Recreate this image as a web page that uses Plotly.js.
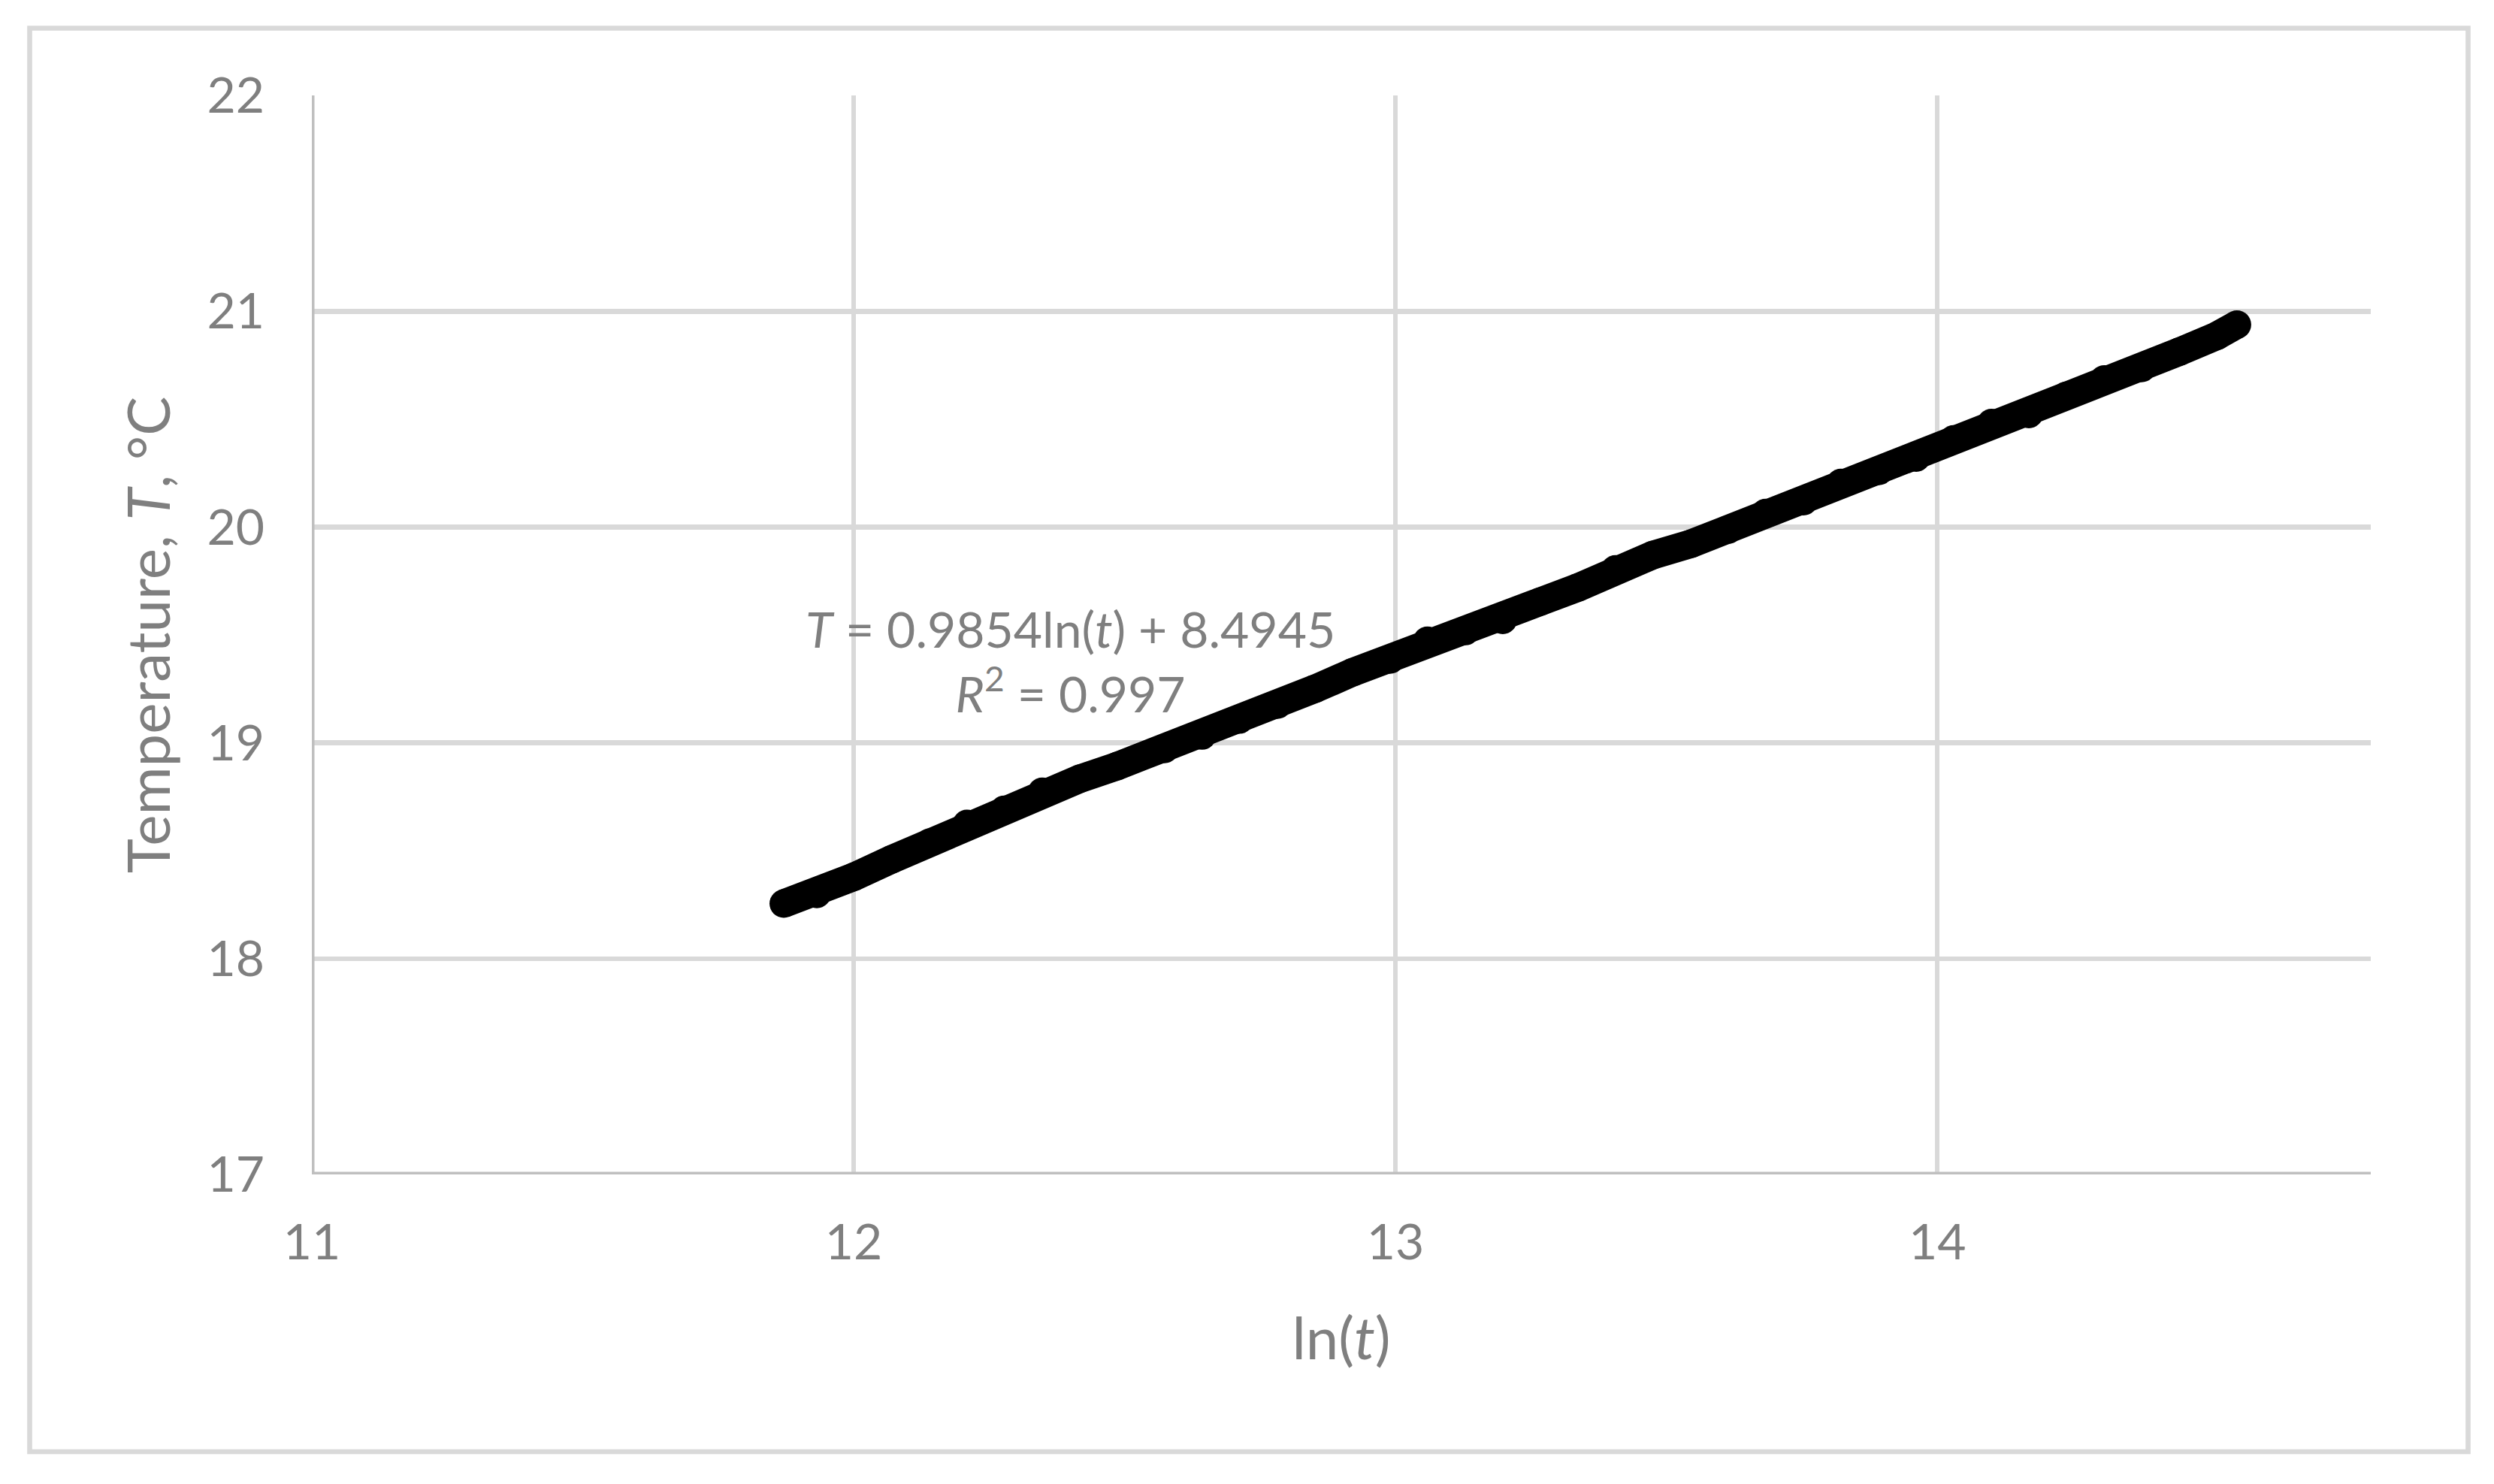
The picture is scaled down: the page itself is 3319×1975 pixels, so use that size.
<!DOCTYPE html>
<html>
<head>
<meta charset="utf-8">
<script src="https://cdn.plot.ly/plotly-3.0.1.min.js"></script>
<style>
  html, body { margin: 0; padding: 0; background: #ffffff; }
  #chart { width: 3319px; height: 1975px; }
</style>
</head>
<body>
<div id="chart"></div>
<script>
// ---- Data ----
const lnT = [11.871, 11.932, 12.001, 12.070, 12.140, 12.209, 12.278, 12.348, 12.417, 12.486,
             12.574, 12.643, 12.712, 12.782, 12.851, 12.921, 12.990, 13.059, 13.129, 13.198,
             13.267, 13.337, 13.406, 13.475, 13.545, 13.614, 13.683, 13.753, 13.822, 13.892,
             13.961, 14.030, 14.100, 14.169, 14.238, 14.308, 14.377, 14.447, 14.516, 14.553];
const tempC = [18.255, 18.300, 18.380, 18.460, 18.537, 18.624, 18.690, 18.773, 18.833, 18.892,
               18.972, 19.034, 19.108, 19.177, 19.250, 19.327, 19.386, 19.473, 19.518, 19.570,
               19.654, 19.720, 19.804, 19.870, 19.922, 19.988, 20.065, 20.120, 20.204, 20.260,
               20.322, 20.406, 20.482, 20.524, 20.608, 20.684, 20.737, 20.813, 20.886, 20.938];
const xTicks = [11, 12, 13, 14];
const yTicks = [17, 18, 19, 20, 21, 22];
const xRange = [11, 14.8];
const yRange = [17, 22];
const xTitle = 'ln(<i>t</i>)';
const yTitle = 'Temperature, <i>T</i>, °C';
const fitText = '<i>T</i> = 0.9854ln(<i>t</i>) + 8.4945<br><i>R</i><sup>2</sup> = 0.997';

// ---- Layout geometry (pixels) ----
const W = 3319, H = 1975;
const plotL = 415, plotR = 3155, plotT = 127, plotB = 1563;
const pw = plotR - plotL, ph = plotB - plotT;
const px2x = p => (p - plotL) / pw;
const py2y = p => (plotB - p) / ph;

const FONT = 'Lato, "Open Sans", sans-serif';
const GRAY = '#7f7f7f';
const AXIS_COLOR = '#bfbfbf';

const trace = {
  type: 'scatter',
  mode: 'lines+markers',
  x: lnT,
  y: tempC,
  line: { color: '#000000', width: 38 },
  marker: { color: '#000000', size: 38, line: { width: 0 } },
  hoverinfo: 'x+y',
  showlegend: false
};

const axisCommon = {
  showgrid: true,
  gridcolor: '#d9d9d9',
  gridwidth: 6.6,
  showline: false,
  zeroline: false,
  ticks: '',
  tickmode: 'array',
  tickfont: { family: FONT, size: 66, color: GRAY },
  automargin: false,
  fixedrange: true
};

const layout = {
  width: W,
  height: H,
  margin: { l: plotL, r: W - plotR, t: plotT, b: H - plotB, pad: 0 },
  paper_bgcolor: '#ffffff',
  plot_bgcolor: '#ffffff',
  font: { family: FONT, color: GRAY },
  xaxis: Object.assign({}, axisCommon, {
    range: xRange,
    tickvals: xTicks,
    ticktext: xTicks.map(String),
    ticklabelstandoff: 46,
    title: { text: xTitle, font: { family: FONT, size: 78, color: GRAY }, standoff: 65 }
  }),
  yaxis: Object.assign({}, axisCommon, {
    range: yRange,
    tickvals: yTicks,
    ticktext: yTicks.map(String),
    ticklabelstandoff: 62,
    title: { text: yTitle, font: { family: FONT, size: 78, color: GRAY }, standoff: 23 }
  }),
  annotations: [{
    xref: 'x', yref: 'y',
    x: 12.400, y: 19.379,
    xanchor: 'center', yanchor: 'middle',
    text: fitText,
    showarrow: false,
    align: 'center',
    font: { family: FONT, size: 66, color: GRAY }
  }],
  shapes: [
    { // chart-area border
      type: 'rect',
      xref: 'paper', yref: 'paper',
      x0: px2x(39.5), x1: px2x(3284.5),
      y0: py2y(1932), y1: py2y(37.5),
      line: { color: '#d9d9d9', width: 6.6 },
      fillcolor: 'rgba(0,0,0,0)',
      layer: 'below'
    },
    { // vertical (value) axis line at x = 11
      type: 'line', xref: 'x', yref: 'y',
      x0: xRange[0], x1: xRange[0], y0: yRange[0], y1: yRange[1],
      line: { color: AXIS_COLOR, width: 7 },
      layer: 'between'
    },
    { // horizontal axis line at y = 17
      type: 'line', xref: 'x', yref: 'y',
      x0: xRange[0], x1: xRange[1], y0: yRange[0], y1: yRange[0],
      line: { color: AXIS_COLOR, width: 7 },
      layer: 'between'
    }
  ]
};

Plotly.newPlot('chart', [trace], layout, { displayModeBar: false, staticPlot: true });
</script>
</body>
</html>
